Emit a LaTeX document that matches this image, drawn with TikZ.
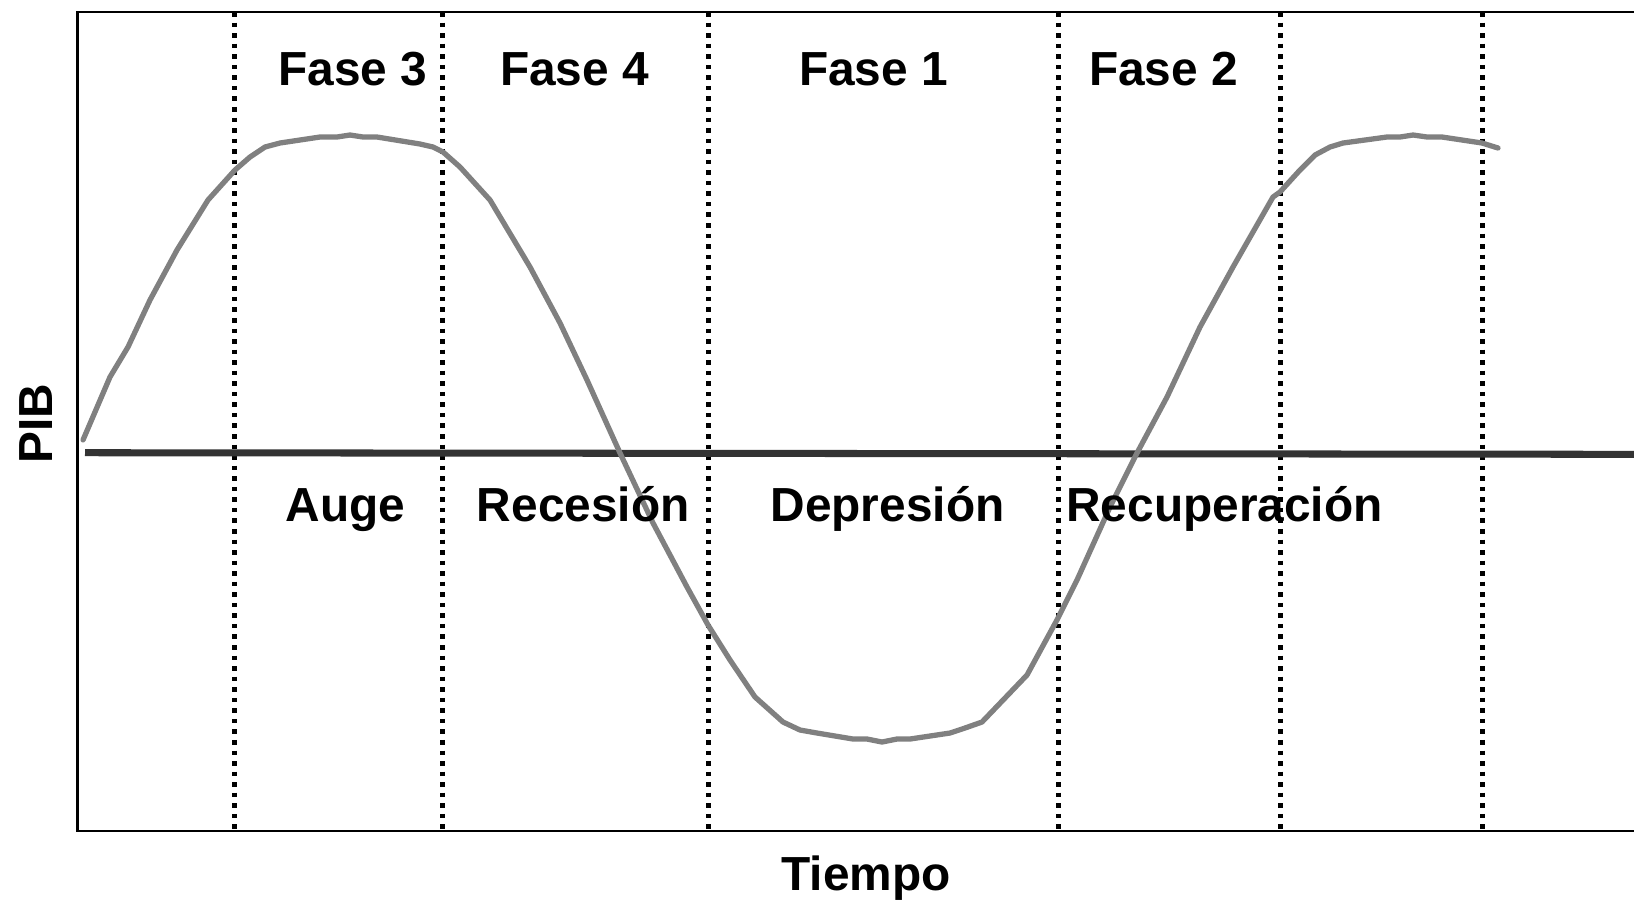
\documentclass[tikz,border=0pt]{standalone}
\usepackage{fontspec}
\setmainfont{Liberation Sans}
\usepackage{xcolor}
\usepackage{tikz}
\definecolor{ejecol}{RGB}{51,51,51}
\definecolor{ciclocol}{RGB}{128,128,128}

\begin{document}
\begin{tikzpicture}[
  x=0.01cm, y=-0.01cm,
  every node/.style = {inner sep=0pt, anchor=base, font=\fontsize{13.6}{16}\selectfont\bfseries},
  marco/.style   = {line width=0.6pt, black},
  limite/.style  = {line width=1.4pt, black, dash pattern=on 1.3pt off 1.7pt},
  eje/.style     = {line width=2pt, ejecol},
  ciclo/.style   = {line width=1.5pt, ciclocol, line join=round, line cap=round},
]
\useasboundingbox (0,0) rectangle (1634,899);
% Frame
\draw[marco] (1634,12) -- (77.5,12) -- (77.5,831) -- (1634,831);
% Phase limits
\draw[limite] (234.7,12) -- (234.7,831);
\draw[limite] (442.7,12) -- (442.7,831);
\draw[limite] (708.7,12) -- (708.7,831);
\draw[limite] (1058.6,12) -- (1058.6,831);
\draw[limite] (1280.5,12) -- (1280.5,831);
\draw[limite] (1482.3,12) -- (1482.3,831);
% Trend line
\draw[eje] (85,452.7) -- (1634,454.3);
% Business cycle
\draw[ciclo] plot coordinates {
  (83,440) (110,377) (128,347) (150,300) (177,250) (208,200) (235,170)
  (250,157) (265,147) (280,143) (320,137) (337,137) (350,135) (363,137)
  (377,137) (420,144) (433,147) (443,152) (460,167) (490,200) (530,267)
  (560,323) (587,380) (620,453) (653,523) (687,587) (708,625) (730,660)
  (755,697) (783,722) (800,730) (817,733) (853,739) (867,739) (882,742)
  (897,739) (910,739) (950,733) (965,728) (982,722) (1005,698) (1027,675)
  (1058,618) (1077,580) (1110,507) (1137,453) (1167,397) (1200,327)
  (1233,267) (1273,197) (1280,192) (1300,170) (1315,155) (1330,147)
  (1343,143) (1387,137) (1400,137) (1413,135) (1427,137) (1442,137)
  (1482,143) (1498,148)};
% Phase numbers
\node (fase3) at (352.7,85) {Fase 3};
\node (fase4) at (574.5,85) {Fase 4};
\node (fase1) at (873.5,85) {Fase 1};
\node (fase2) at (1163.5,85) {Fase 2};
% Phase names
\node (auge) at (345.5,521.5) {Auge};
\node (recesion) at (583.3,521.5) {Recesión};
\node (depresion) at (887.5,521.5) {Depresión};
\node (recuperacion) at (1224.5,521.5) {Recuperación};
% Axis titles
\node (tiempo) at (866,890) {Tiempo};
\node[rotate=90] (pib) at (52.3,424) {PIB};
\end{tikzpicture}
\end{document}
